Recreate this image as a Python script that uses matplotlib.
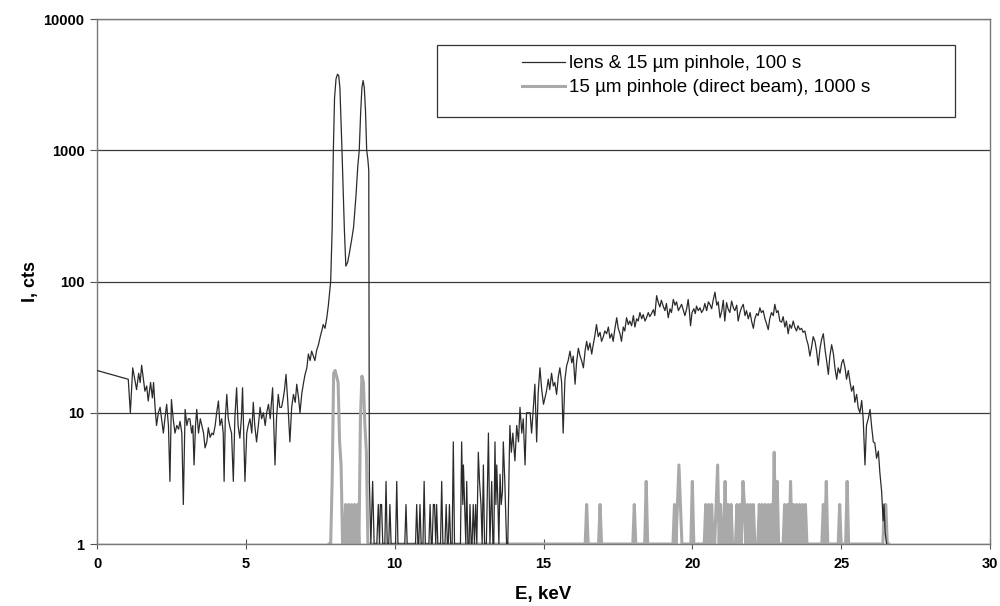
import numpy as np
import matplotlib
matplotlib.use("Agg")
import matplotlib.pyplot as plt
from matplotlib.patches import Rectangle
from matplotlib.ticker import FixedLocator, FixedFormatter, NullLocator

plt.rcParams['font.family'] = ['Liberation Sans', 'DejaVu Sans']

# lens & 15 um pinhole, 100 s  (energy keV, counts)
lens_e = [0.0, 1.05, 1.12, 1.2, 1.27, 1.33, 1.4, 1.45, 1.5, 1.56, 1.61, 1.67, 1.72, 1.77, 1.8, 1.86, 1.9, 1.95,
          2.0, 2.06, 2.12, 2.17, 2.23, 2.28, 2.34, 2.4, 2.45, 2.5, 2.56, 2.62, 2.68, 2.74, 2.79, 2.85, 2.9, 2.96,
          3.02, 3.07, 3.12, 3.18, 3.22, 3.26, 3.31, 3.35, 3.41, 3.47, 3.52, 3.58, 3.63, 3.69, 3.74, 3.8, 3.86, 3.91, 3.97,
          4.02, 4.08, 4.13, 4.19, 4.24, 4.27, 4.31, 4.36, 4.41, 4.47, 4.52, 4.58, 4.63, 4.69, 4.74, 4.8, 4.85, 4.89, 4.93, 4.97,
          5.03, 5.08, 5.14, 5.2, 5.25, 5.3, 5.36, 5.42, 5.48, 5.53, 5.59, 5.65, 5.7, 5.76, 5.82, 5.86, 5.9, 5.94, 5.98,
          6.03, 6.09, 6.14, 6.2, 6.26, 6.3, 6.35, 6.41, 6.48, 6.54, 6.6, 6.66, 6.71, 6.77, 6.82, 6.88, 6.94, 6.99,
          7.05, 7.1, 7.16, 7.21, 7.27, 7.32, 7.38, 7.44, 7.5, 7.55, 7.6, 7.66, 7.72, 7.77, 7.81, 7.85, 7.9, 7.94,
          7.98, 8.03, 8.08, 8.12, 8.16, 8.2, 8.23, 8.27, 8.31, 8.36, 8.42, 8.48, 8.55, 8.62, 8.7, 8.76, 8.81, 8.86, 8.9,
          8.94, 8.98, 9.02, 9.06, 9.1, 9.13, 9.15, 9.2, 9.26, 9.31, 9.4, 9.45, 9.49, 9.52, 9.56, 9.6, 9.67, 9.71, 9.75, 9.8, 9.84, 9.88,
          10.03, 10.07, 10.11, 10.34, 10.38, 10.42, 10.7, 10.74, 10.78, 10.81, 10.85, 10.89, 10.95, 10.99,
          11.03, 11.15, 11.19, 11.23, 11.26, 11.3, 11.34, 11.38, 11.41, 11.45, 11.54, 11.58, 11.62, 11.69, 11.73, 11.77,
          11.8, 11.84, 11.88, 11.93, 11.97, 12.01, 12.21, 12.25, 12.29, 12.31, 12.35, 12.39, 12.42, 12.46, 12.5, 12.53,
          12.57, 12.6, 12.64, 12.68, 12.72, 12.76, 12.81, 12.85, 12.9, 12.94, 12.98, 13.02, 13.08, 13.15, 13.2, 13.26,
          13.3, 13.33, 13.37, 13.4, 13.43, 13.47, 13.5, 13.54, 13.58, 13.62, 13.65, 13.7, 13.76, 13.8, 13.87, 13.92, 13.97,
          14.04, 14.1, 14.16, 14.21, 14.27, 14.32, 14.38, 14.43, 14.49, 14.55, 14.6, 14.66, 14.71, 14.77, 14.82, 14.88, 14.94,
          15.0, 15.05, 15.1, 15.16, 15.21, 15.27, 15.33, 15.38, 15.44, 15.5, 15.55, 15.61, 15.66, 15.72, 15.78, 15.83, 15.89, 15.95,
          16.0, 16.06, 16.11, 16.17, 16.23, 16.28, 16.34, 16.4, 16.45, 16.5, 16.56, 16.62, 16.67, 16.72, 16.78, 16.84, 16.9, 16.95,
          17.01, 17.06, 17.12, 17.18, 17.23, 17.29, 17.34, 17.4, 17.46, 17.51, 17.57, 17.62, 17.68, 17.73, 17.79, 17.85, 17.9, 17.96,
          18.02, 18.07, 18.13, 18.18, 18.24, 18.3, 18.35, 18.41, 18.46, 18.52, 18.57, 18.63, 18.69, 18.74, 18.8, 18.85, 18.91, 18.96,
          19.02, 19.08, 19.13, 19.19, 19.25, 19.3, 19.36, 19.42, 19.47, 19.53, 19.58, 19.64, 19.7, 19.75, 19.81, 19.86, 19.9, 19.94, 19.99,
          20.05, 20.1, 20.14, 20.2, 20.26, 20.31, 20.37, 20.42, 20.48, 20.54, 20.59, 20.65, 20.7, 20.76, 20.82, 20.87, 20.93, 20.99,
          21.04, 21.09, 21.15, 21.2, 21.26, 21.32, 21.38, 21.43, 21.49, 21.54, 21.6, 21.65, 21.71, 21.77, 21.82, 21.88, 21.94, 21.99,
          22.05, 22.1, 22.16, 22.21, 22.27, 22.32, 22.38, 22.44, 22.49, 22.55, 22.6, 22.66, 22.72, 22.77, 22.83, 22.88, 22.94,
          23.0, 23.05, 23.11, 23.16, 23.22, 23.27, 23.33, 23.39, 23.44, 23.5, 23.55, 23.61, 23.67, 23.72, 23.78, 23.84, 23.89, 23.95,
          24.0, 24.06, 24.12, 24.17, 24.23, 24.29, 24.34, 24.4, 24.46, 24.51, 24.57, 24.62, 24.68, 24.74, 24.79, 24.85, 24.9, 24.96,
          25.02, 25.07, 25.13, 25.18, 25.24, 25.3, 25.35, 25.41, 25.46, 25.52, 25.57, 25.63, 25.69, 25.74, 25.8, 25.85, 25.91, 25.97,
          26.02, 26.08, 26.13, 26.19, 26.25, 26.3, 26.36, 26.41, 26.44, 26.48, 26.53]
lens_i = [21, 18, 10, 22, 18, 15, 20, 17, 23, 18, 14.6, 16, 12.3, 15, 17, 13, 17, 11,
          8, 10, 11, 9, 7, 9, 11.6, 8, 3, 12.6, 9, 7, 8, 7.5, 8.6, 7, 2, 10.6,
          8, 9, 9, 7, 8, 4, 8, 10.6, 7, 9, 8, 7, 5.4, 6, 7.7, 6.5, 7, 6.8, 8,
          10, 12.3, 8, 9, 7, 3, 9, 13.8, 9, 7.7, 7, 3, 9, 15.5, 8, 6.4, 9, 15.5, 7, 3,
          7, 8, 9, 7, 12, 8, 6, 8, 11, 9, 10, 8, 10, 11.6, 9, 12, 15.5, 8, 4,
          9, 13.8, 11, 11, 13, 15, 19.6, 12, 6, 11, 13.8, 12, 16.5, 13, 10, 14, 17, 19.6,
          22, 28, 25, 29.5, 27, 25, 30, 33, 38, 42, 47, 44, 53, 65, 80, 100, 250, 1000,
          2500, 3500, 3800, 3700, 3000, 1600, 1000, 500, 250, 131, 140, 165, 205, 260, 450, 750, 1000, 2000, 3000,
          3400, 3000, 2000, 1000, 850, 700, 3, 1, 3, 1, 1, 2, 1, 2, 2, 1, 1, 3, 1, 1, 2, 1,
          1, 3, 1, 1, 2, 1, 1, 2, 1, 1, 2, 1, 1, 3,
          1, 1, 2, 1, 1, 2, 2, 1, 2, 1, 1, 3, 1, 1, 2, 1,
          1, 2, 1, 1, 6, 1, 1, 6, 2, 4, 2, 1, 3, 1, 1, 2,
          1, 1, 2, 1, 2, 1, 5, 3, 2, 1, 4, 1, 1, 7, 1, 3,
          1, 1, 6, 2, 4, 2, 1, 3.4, 2, 2.5, 6, 3, 1, 1, 8, 5, 7,
          4.3, 8, 6, 11, 7, 9, 4, 10, 10, 10, 7, 11, 16.5, 6, 14, 22, 15,
          11.6, 13, 14.6, 18, 15, 20, 16, 17, 13.8, 19, 22, 17, 7, 18, 23, 25, 29.5, 24,
          27, 16.5, 24, 31, 27, 25, 22, 30, 35, 30, 34, 28, 33, 38, 47, 38, 41, 35,
          38, 42, 40, 45, 37, 40, 35, 44, 53, 44, 40, 35, 45, 42, 53, 47, 50, 46,
          55, 45, 52, 50, 58, 52, 56, 50, 53, 58, 54, 57, 61, 55, 78, 70, 64, 72,
          65, 60, 68, 53, 62, 58, 73, 66, 70, 60, 63, 67, 60, 55, 62, 73, 60, 46, 58,
          62, 57, 65, 60, 63, 58, 61, 68, 60, 70, 67, 62, 72, 83, 66, 70, 53, 60,
          72, 50, 69, 62, 58, 71, 63, 60, 66, 50, 58, 63, 67, 55, 60, 52, 58, 50,
          44, 52, 57, 55, 63, 58, 60, 52, 48, 43, 52, 58, 55, 67, 58, 60, 50,
          49, 54, 45, 50, 40, 47, 44, 50, 45, 42, 46, 43, 44, 41, 42, 36, 33, 27,
          31, 38, 35, 30, 23, 31, 36, 40, 30, 25, 19.6, 27, 33, 28, 22, 18, 22, 20,
          24, 25.5, 22, 18, 21, 17, 14.6, 16, 12, 13.8, 11, 10, 12.4, 9, 4, 8, 9, 10.6,
          8, 6, 5.9, 4.5, 5.1, 3.5, 2.5, 1.5, 2, 1.2, 1]

# 15 um pinhole (direct beam), 1000 s: channels above one count (0.05 keV channels)
pin_start, pin_stop, pin_step = 7.8, 26.6, 0.05
pin_e = [7.9, 7.95, 8.0, 8.05, 8.1, 8.15, 8.2, 8.35, 8.45, 8.55, 8.65, 8.75, 8.85, 8.9, 8.95, 9.0, 9.05,
         16.45, 16.9, 18.05, 18.45, 19.4, 19.5, 19.55, 19.6, 20.0, 20.45, 20.55, 20.65,
         20.8, 20.85, 20.95, 21.1, 21.2, 21.3, 21.5, 21.6, 21.7, 21.75, 21.85, 21.95, 22.05,
         22.25, 22.35, 22.45, 22.55, 22.65, 22.75, 22.85, 23.1, 23.2, 23.3, 23.4, 23.5, 23.6, 23.7, 23.8,
         24.4, 24.5, 24.95, 25.2, 26.45, 26.5]
pin_i = [3, 20, 21, 19, 17, 6, 4, 2, 2, 2, 2, 2, 9, 19, 17, 8, 5,
         2, 2, 2, 3, 2, 2, 4, 2, 3, 2, 2, 2,
         2, 4, 2, 3, 2, 2, 2, 2, 3, 2, 2, 2, 2,
         2, 2, 2, 2, 2, 5, 3, 2, 2, 3, 2, 2, 2, 2, 2,
         2, 3, 2, 3, 2, 2]

yticks = [1, 10, 100, 1000, 10000]
xticks = [0, 5, 10, 15, 20, 25, 30]

# build the full pinhole channel list (one count where nothing listed)
pin_grid = np.round(np.arange(pin_start, pin_stop + 1e-6, pin_step), 2)
pin_counts = np.ones_like(pin_grid)
for e, c in zip(pin_e, pin_i):
    pin_counts[np.argmin(np.abs(pin_grid - e))] = c

fig = plt.figure(figsize=(10, 6.06), dpi=100)
ax = fig.add_axes([0.097, 0.1023, 0.893, 0.8663])

for y in yticks:
    ax.axhline(y, color='#3a3a3a', lw=0.9, zorder=1)

ax.plot(pin_grid, pin_counts, color='#a9a9a9', lw=2.2, zorder=2,
        label='15 µm pinhole (direct beam), 1000 s')
ax.plot(lens_e, lens_i, color='#2b2b2b', lw=0.9, zorder=3,
        label='lens & 15 µm pinhole, 100 s')

ax.set_yscale('log')
ax.set_ylim(1, 10000)
ax.set_xlim(0, 30)
ax.yaxis.set_major_locator(FixedLocator(yticks))
ax.yaxis.set_major_formatter(FixedFormatter([str(v) for v in yticks]))
ax.yaxis.set_minor_locator(NullLocator())
ax.set_xticks(xticks)
ax.set_xticklabels([str(v) for v in xticks])

for lab in ax.get_xticklabels() + ax.get_yticklabels():
    lab.set_fontweight('bold')
    lab.set_fontsize(10.5)
ax.tick_params(axis='y', direction='out', length=5, width=0.8, color='#555555', pad=4)
ax.tick_params(axis='x', direction='inout', length=7, width=0.8, color='#555555', pad=6)

for s in ['left', 'bottom', 'right', 'top']:
    ax.spines[s].set_color('#7a7a7a')
    ax.spines[s].set_linewidth(1.0)

ax.set_xlabel('E, keV', fontsize=13.5, fontweight='bold', labelpad=11)
ax.set_ylabel('I, cts', fontsize=13, fontweight='bold', labelpad=3)

# legend box
ax.add_patch(Rectangle((0.381, 0.813), 0.580, 0.137, transform=ax.transAxes,
                       fill=True, facecolor='white', edgecolor='#333333', lw=0.9, zorder=4))
h, l = ax.get_legend_handles_labels()
leg = ax.legend(h[::-1], l[::-1], loc='upper left', bbox_to_anchor=(0.476, 0.931),
                frameon=False, fontsize=13.6, handlelength=2.25, handletextpad=0.25,
                labelspacing=0.35, borderpad=0, borderaxespad=0)
leg.set_zorder(5)

fig.savefig('out.png', dpi=100)
